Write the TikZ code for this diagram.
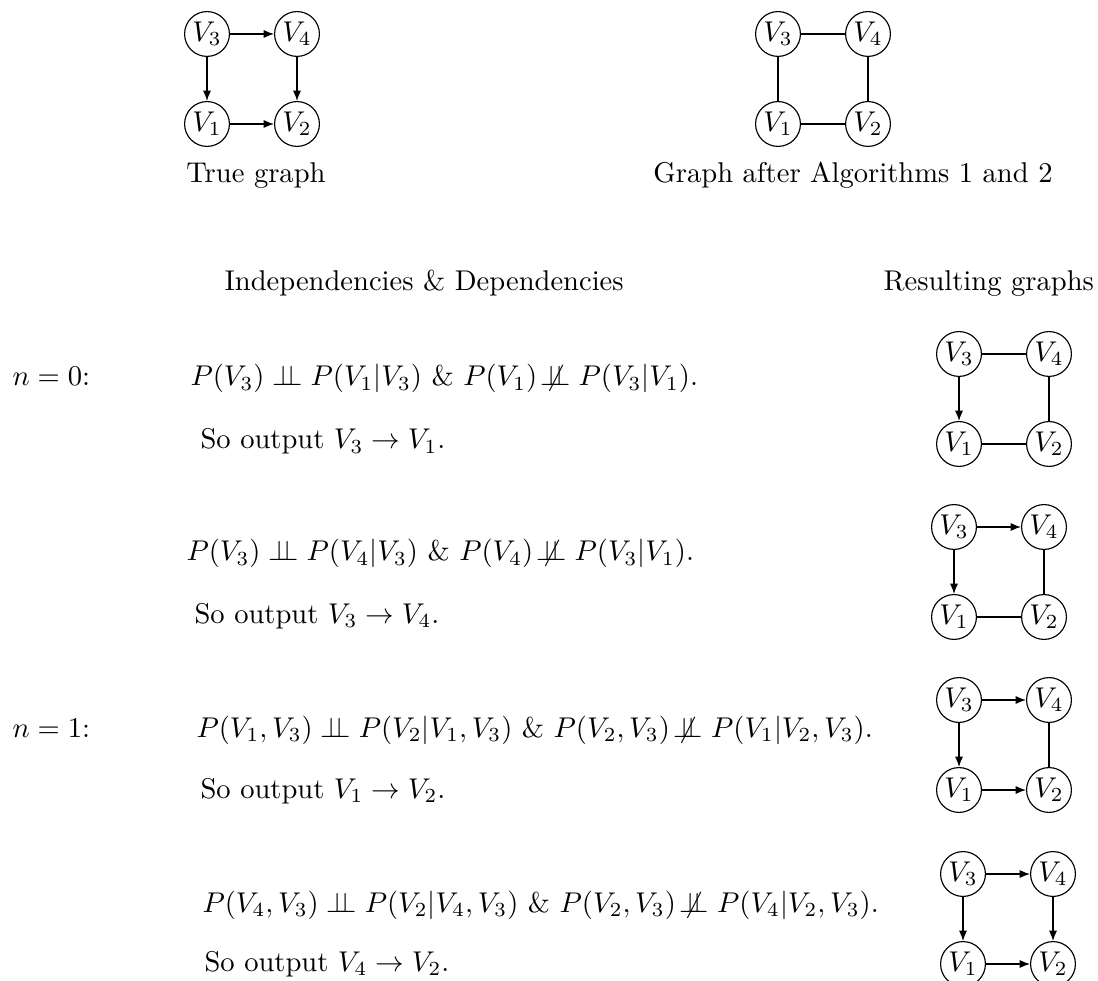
\documentclass[tikz,border=0pt]{standalone}
\usepackage{amsmath,amssymb}
\usepackage{tikz}
\usetikzlibrary{arrows.meta}
\newcommand{\indep}{\mathrel{\perp\!\!\!\perp}}
\newcommand{\nindep}{\mathrel{\not\!\perp\!\!\!\perp}}
\tikzset{
  vnode/.style={draw, circle, minimum size=15.7pt, inner sep=0pt},
  dir/.style={-{Latex[length=3.6pt,width=2.8pt]}},
  txt/.style={anchor=base west, inner sep=0pt},
  captext/.style={anchor=base, inner sep=0pt}
}

\begin{document}
\begin{tikzpicture}[x=0.35pt, y=-0.35pt]
  \useasboundingbox (0,0) rectangle (1098,981);
  % the six small graphs
  \foreach \g/\x/\y in {t/207/34, u/778/34, ra/959/354, rb/954/527, rc/959/700, rd/963/874} {
    \node[vnode] (\g3) at (\x,\y) {$V_3$};
    \node[vnode] (\g4) at (\x+90,\y) {$V_4$};
    \node[vnode] (\g1) at (\x,\y+90) {$V_1$};
    \node[vnode] (\g2) at (\x+90,\y+90) {$V_2$};
  }
  % true graph
  \draw[dir] (t3) -- (t4);
  \draw[dir] (t3) -- (t1);
  \draw[dir] (t4) -- (t2);
  \draw[dir] (t1) -- (t2);
  \node[captext] (captrue) at (256,183) {True graph};
  % skeleton
  \draw (u3) -- (u4);
  \draw (u3) -- (u1);
  \draw (u4) -- (u2);
  \draw (u1) -- (u2);
  \node[captext] (capskel) at (853,183) {Graph after Algorithms 1 and 2};

  \node[txt] (headdep) at (224,291) {Independencies \& Dependencies};
  \node[txt] (headres) at (883,291) {Resulting graphs};

  % n = 0
  \node[txt] (nzero) at (12,386) {$n=0$:};
  \node[txt] (rowa) at (190,386) {$P(V_3)\indep P(V_1|V_3)$ \& $P(V_1)\nindep P(V_3|V_1)$.};
  \node[txt] (outa) at (200,449) {So output $V_3\to V_1$.};
  \draw[dir] (ra3) -- (ra1);
  \draw (ra3) -- (ra4);
  \draw (ra4) -- (ra2);
  \draw (ra1) -- (ra2);

  \node[txt] (rowb) at (186,561) {$P(V_3)\indep P(V_4|V_3)$ \& $P(V_4)\nindep P(V_3|V_1)$.};
  \node[txt] (outb) at (194,623) {So output $V_3\to V_4$.};
  \draw[dir] (rb3) -- (rb4);
  \draw[dir] (rb3) -- (rb1);
  \draw (rb4) -- (rb2);
  \draw (rb1) -- (rb2);

  % n = 1
  \node[txt] (none) at (12,737) {$n=1$:};
  \node[txt] (rowc) at (196,737) {$P(V_1,V_3)\indep P(V_2|V_1,V_3)$ \& $P(V_2,V_3)\nindep P(V_1|V_2,V_3)$.};
  \node[txt] (outc) at (200,798) {So output $V_1\to V_2$.};
  \draw[dir] (rc3) -- (rc4);
  \draw[dir] (rc3) -- (rc1);
  \draw[dir] (rc1) -- (rc2);
  \draw (rc4) -- (rc2);

  \node[txt] (rowd) at (202,912) {$P(V_4,V_3)\indep P(V_2|V_4,V_3)$ \& $P(V_2,V_3)\nindep P(V_4|V_2,V_3)$.};
  \node[txt] (outd) at (204,971) {So output $V_4\to V_2$.};
  \draw[dir] (rd3) -- (rd4);
  \draw[dir] (rd3) -- (rd1);
  \draw[dir] (rd1) -- (rd2);
  \draw[dir] (rd4) -- (rd2);
\end{tikzpicture}
\end{document}
